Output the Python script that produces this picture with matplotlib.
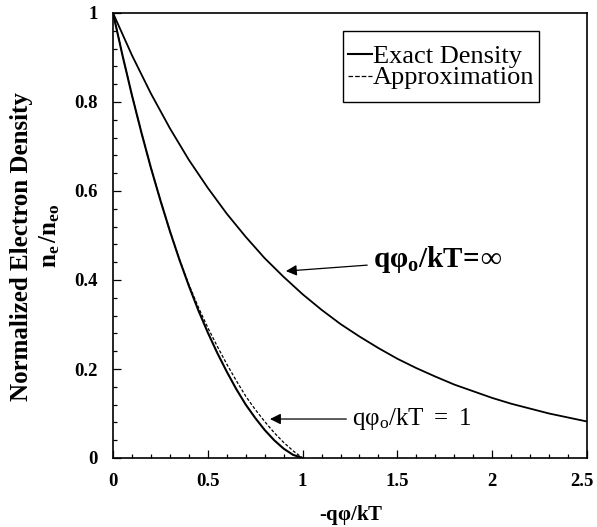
import matplotlib
matplotlib.use("Agg")
import matplotlib.pyplot as plt
from matplotlib.lines import Line2D
from matplotlib.patches import Rectangle
from matplotlib.ticker import MultipleLocator, FuncFormatter
from matplotlib.transforms import ScaledTranslation

plt.rcParams['font.family'] = ['Liberation Serif', 'DejaVu Serif']
plt.rcParams['font.weight'] = 'bold'
plt.rcParams['mathtext.fontset'] = 'custom'
plt.rcParams['mathtext.rm'] = 'Liberation Serif:weight=normal'
plt.rcParams['mathtext.bf'] = 'Liberation Serif:weight=bold'
plt.rcParams['mathtext.it'] = 'Liberation Serif:italic'

# Normalized potential -q*phi/kT
x_inf = [0.0, 0.1, 0.2, 0.3, 0.4, 0.5, 0.6, 0.7, 0.8, 0.9, 1.0, 1.1, 1.2,
         1.3, 1.4, 1.5, 1.6, 1.7, 1.8, 1.9, 2.0, 2.1, 2.2, 2.3, 2.4, 2.5]
# Density for an infinite barrier (q*phi_o/kT = infinity)
n_inf = [1.000, 0.905, 0.819, 0.741, 0.670, 0.607, 0.549, 0.497, 0.449,
         0.407, 0.368, 0.333, 0.301, 0.273, 0.247, 0.223, 0.202, 0.183,
         0.165, 0.150, 0.135, 0.122, 0.111, 0.100, 0.091, 0.082]

x_one = [0.00, 0.05, 0.10, 0.15, 0.20, 0.25, 0.30, 0.35, 0.40, 0.45, 0.50,
         0.55, 0.60, 0.65, 0.70, 0.75, 0.80, 0.85, 0.90, 0.95, 1.00]
# Barrier q*phi_o/kT = 1: exact density and its approximation
n_exact = [1.000, 0.905, 0.815, 0.731, 0.652, 0.579, 0.510, 0.446, 0.387,
           0.332, 0.282, 0.236, 0.194, 0.155, 0.120, 0.090, 0.063, 0.040,
           0.021, 0.007, 0.000]
n_approx = [1.000, 0.905, 0.815, 0.731, 0.652, 0.579, 0.510, 0.447, 0.390,
            0.339, 0.293, 0.251, 0.211, 0.174, 0.139, 0.109, 0.082, 0.057,
            0.035, 0.016, 0.000]

fig = plt.figure(figsize=(5.97, 5.27), dpi=100)
ax = fig.add_axes([113/597, 69/527, 474/597, 445/527])

ax.plot(x_inf, n_inf, color='black', lw=1.3)
ax.plot(x_one, n_exact, color='black', lw=1.5, label='Exact Density')
ax.plot(x_one, n_approx, color='black', lw=0.9, ls=(0, (2.5, 1.5)),
        label='Approximation')

ax.set_xlim(0, 2.5)
ax.set_ylim(0, 1)
ax.xaxis.set_major_locator(MultipleLocator(0.5))
ax.xaxis.set_minor_locator(MultipleLocator(0.1))
ax.yaxis.set_major_locator(MultipleLocator(0.2))
ax.yaxis.set_minor_locator(MultipleLocator(0.04))

def fmt(v, pos):
    s = f"{v:.1f}"
    return s[:-2] if s.endswith('.0') else s

ax.xaxis.set_major_formatter(FuncFormatter(fmt))
ax.yaxis.set_major_formatter(FuncFormatter(fmt))

ax.tick_params(which='both', direction='in', top=False, right=False,
               width=0.9, colors='black')
ax.tick_params(which='major', length=6, pad=11, labelsize=13.5)
ax.tick_params(which='minor', length=3.2)
for sp in ax.spines.values():
    sp.set_linewidth(1.2)

fig.text(351/597, 1 - 515/527, r'-q$\mathbf{\varphi}$/kT', ha='center',
         va='center', fontsize=15, fontweight='bold')

fig.text(22/597, 1 - 247/527, 'Normalized Electron Density', rotation=90,
         ha='center', va='center', fontsize=18, fontweight='bold')
fig.text(50/597, 1 - 236/527, r'$\mathbf{n_{e}\,/n_{eo}}$', rotation=90,
         ha='center', va='center', fontsize=18)

# Boxed key in the upper part of the plot, built from the plotted lines
handles, labels = ax.get_legend_handles_labels()
ax.add_patch(Rectangle((0.4852, 0.800), 0.4135, 0.1596, transform=ax.transAxes,
                       facecolor='white', edgecolor='black', lw=1.0,
                       zorder=5))
for (h, lab, ly, ty) in zip(handles, labels, (0.907, 0.858), (0.8876, 0.8404)):
    ax.add_line(Line2D([0.4958, 0.5464], [ly, ly], transform=ax.transAxes,
                       color=h.get_color(), lw=h.get_linewidth(),
                       ls=h.get_linestyle(), zorder=6))
    ax.text(0.5485, ty, lab, transform=ax.transAxes, ha='left',
            va='baseline', fontsize=19, fontweight='normal', zorder=6)

ax.annotate(r'$\mathbf{q\varphi_{o}/kT\!=\!\infty}$', xy=(0.912, 0.420),
            xytext=(1.37, 0.445), textcoords='data', fontsize=21,
            va='center', ha='left',
            arrowprops=dict(arrowstyle='-|>', color='black', lw=0.9,
                            mutation_scale=16, shrinkA=2, shrinkB=0))
ax.annotate(r'$\mathrm{q\varphi_{o}/kT\ =\ 1}$', xy=(0.828, 0.0876),
            xytext=(1.26, 0.0876), textcoords='data', fontsize=18,
            va='center', ha='left', fontweight='normal',
            arrowprops=dict(arrowstyle='-|>', color='black', lw=0.9,
                            mutation_scale=16, shrinkA=2, shrinkB=0))

# Keep the label at the right end of the x axis inside the figure edge
fig.canvas.draw()
for tick in ax.xaxis.get_major_ticks():
    if abs(tick.get_loc() - 2.5) < 1e-9:
        lbl = tick.label1
        lbl.set_transform(lbl.get_transform() +
                          ScaledTranslation(-5/100, 0, fig.dpi_scale_trans))

fig.savefig('out.png', dpi=100)
